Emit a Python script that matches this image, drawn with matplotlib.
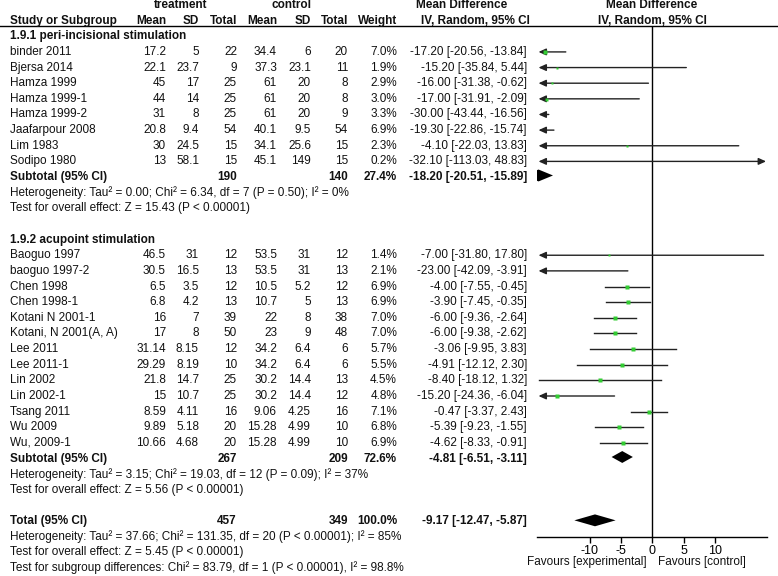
import numpy as np
import matplotlib.pyplot as plt

plt.rcParams['font.family'] = ['Liberation Sans', 'DejaVu Sans']

# ---- DATA ----
studies1 = ['binder 2011', 'Bjersa 2014', 'Hamza 1999', 'Hamza 1999-1', 'Hamza 1999-2',
            'Jaafarpour 2008', 'Lim 1983', 'Sodipo 1980']
t_mean1 = [17.2, 22.1, 45, 44, 31, 20.8, 30, 13]
t_sd1 = [5, 23.7, 17, 14, 8, 9.4, 24.5, 58.1]
t_n1 = [22, 9, 25, 25, 25, 54, 15, 15]
c_mean1 = [34.4, 37.3, 61, 61, 61, 40.1, 34.1, 45.1]
c_sd1 = [6, 23.1, 20, 20, 20, 9.5, 25.6, 149]
c_n1 = [20, 11, 8, 8, 9, 54, 15, 15]
w1 = [7.0, 1.9, 2.9, 3.0, 3.3, 6.9, 2.3, 0.2]
md1 = [-17.20, -15.20, -16.00, -17.00, -30.00, -19.30, -4.10, -32.10]
lo1 = [-20.56, -35.84, -31.38, -31.91, -43.44, -22.86, -22.03, -113.03]
hi1 = [-13.84, 5.44, -0.62, -2.09, -16.56, -15.74, 13.83, 48.83]

studies2 = ['Baoguo 1997', 'baoguo 1997-2', 'Chen 1998', 'Chen 1998-1', 'Kotani N 2001-1',
            'Kotani, N 2001(A, A)', 'Lee 2011', 'Lee 2011-1', 'Lin 2002', 'Lin 2002-1',
            'Tsang 2011', 'Wu 2009', 'Wu, 2009-1']
t_mean2 = [46.5, 30.5, 6.5, 6.8, 16, 17, 31.14, 29.29, 21.8, 15, 8.59, 9.89, 10.66]
t_sd2 = [31, 16.5, 3.5, 4.2, 7, 8, 8.15, 8.19, 14.7, 10.7, 4.11, 5.18, 4.68]
t_n2 = [12, 13, 12, 13, 39, 50, 12, 10, 25, 25, 16, 20, 20]
c_mean2 = [53.5, 53.5, 10.5, 10.7, 22, 23, 34.2, 34.2, 30.2, 30.2, 9.06, 15.28, 15.28]
c_sd2 = [31, 31, 5.2, 5, 8, 9, 6.4, 6.4, 14.4, 14.4, 4.25, 4.99, 4.99]
c_n2 = [12, 13, 12, 13, 38, 48, 6, 6, 13, 12, 16, 10, 10]
w2 = [1.4, 2.1, 6.9, 6.9, 7.0, 7.0, 5.7, 5.5, 4.5, 4.8, 7.1, 6.8, 6.9]
md2 = [-7.00, -23.00, -4.00, -3.90, -6.00, -6.00, -3.06, -4.91, -8.40, -15.20, -0.47, -5.39, -4.62]
lo2 = [-31.80, -42.09, -7.55, -7.45, -9.36, -9.38, -9.95, -12.12, -18.12, -24.36, -3.37, -9.23, -8.33]
hi2 = [17.80, -3.91, -0.45, -0.35, -2.64, -2.62, 3.83, 2.30, 1.32, -6.04, 2.43, -1.55, -0.91]

group_titles = ['1.9.1 peri-incisional stimulation', '1.9.2 acupoint stimulation']
sub_n_t = [190, 267]
sub_n_c = [140, 209]
sub_w = [27.4, 72.6]
sub_md = [-18.20, -4.81]
sub_lo = [-20.51, -6.51]
sub_hi = [-15.89, -3.11]
sub_het = ['Heterogeneity: Tau\u00b2 = 0.00; Chi\u00b2 = 6.34, df = 7 (P = 0.50); I\u00b2 = 0%',
           'Heterogeneity: Tau\u00b2 = 3.15; Chi\u00b2 = 19.03, df = 12 (P = 0.09); I\u00b2 = 37%']
sub_z = ['Test for overall effect: Z = 15.43 (P < 0.00001)',
         'Test for overall effect: Z = 5.56 (P < 0.00001)']

tot_n_t, tot_n_c, tot_w = 457, 349, 100.0
tot_md, tot_lo, tot_hi = -9.17, -12.47, -5.87
tot_notes = ['Heterogeneity: Tau\u00b2 = 37.66; Chi\u00b2 = 131.35, df = 20 (P < 0.00001); I\u00b2 = 85%',
             'Test for overall effect: Z = 5.45 (P < 0.00001)',
             'Test for subgroup differences: Chi\u00b2 = 83.79, df = 1 (P < 0.00001), I\u00b2 = 98.8%']

xticks = [-10, -5, 0, 5, 10]
fav_left, fav_right = 'Favours [experimental]', 'Favours [control]'

# ---- LAYOUT ----
W, H = 778, 576
FS = 8.5
ROW0, STEP = 5, 15.64          # pixel y of row 0, row height


def row_y(px):
    return (px - ROW0) / STEP


fig = plt.figure(figsize=(W / 100, H / 100), dpi=100)
ax = fig.add_axes([0, 0, 1, 1])
ax.set_xlim(0, W)
ax.set_ylim(row_y(H), row_y(0))
ax.axis('off')

XL = (-18.4, 18.4)
ZERO_PX, PPU = 652.3, 6.25
left_px = ZERO_PX + XL[0] * PPU
top_px, bot_px = 26, 537
axf = fig.add_axes([left_px / W, 1 - bot_px / H, (XL[1] - XL[0]) * PPU / W, (bot_px - top_px) / H])
axf.set_xlim(*XL)
axf.set_ylim(row_y(bot_px), row_y(top_px))
axf.patch.set_alpha(0)
for s in ['top', 'left', 'right']:
    axf.spines[s].set_visible(False)
axf.spines['bottom'].set_linewidth(1)
axf.set_yticks([])
axf.set_xticks(xticks)
axf.set_xticklabels([str(t) for t in xticks], fontsize=FS + 0.5)
axf.tick_params(axis='x', length=4, width=1, pad=1.5)
axf.axvline(0, color='black', lw=1)

# column right edges (pixels)
X_NAME, X_TM, X_TSD, X_TN, X_CM, X_CSD, X_CN, X_W, X_CI = 10, 166, 199, 237, 277, 311, 348, 397, 527


def txt(x, y, s, ha='right', bold=False):
    ax.text(x, y, s, ha=ha, va='center', fontsize=FS, color='#111111',
            fontweight='bold' if bold else 'normal')


def ci_str(m, l, h):
    return f'{m:.2f} [{l:.2f}, {h:.2f}]'


# headers
txt(181, 0, 'treatment', ha='center', bold=True)
txt(292, 0, 'control', ha='center', bold=True)
txt(462, 0, 'Mean Difference', ha='center', bold=True)
txt(652, 0, 'Mean Difference', ha='center', bold=True)
txt(X_NAME, 1, 'Study or Subgroup', ha='left', bold=True)
for x, s in zip([X_TM, X_TSD, X_TN, X_CM, X_CSD, X_CN, X_W],
                ['Mean', 'SD', 'Total', 'Mean', 'SD', 'Total', 'Weight']):
    txt(x, 1, s, bold=True)
txt(475, 1, 'IV, Random, 95% CI', ha='center', bold=True)
txt(652, 1, 'IV, Random, 95% CI', ha='center', bold=True)
ax.plot([0, W], [row_y(26), row_y(26)], color='black', lw=1)


def study_row(r, name, tm, tsd, tn, cm, csd, cn, w, m, l, h):
    txt(X_NAME, r, name, ha='left')
    for x, v in zip([X_TM, X_TSD, X_TN, X_CM, X_CSD, X_CN], [tm, tsd, tn, cm, csd, cn]):
        txt(x, r, f'{v:g}')
    txt(X_W, r, f'{w:.1f}%')
    txt(X_CI, r, ci_str(m, l, h))
    # forest marks
    a, b = max(l, XL[0] + 0.2), min(h, XL[1] - 0.2)
    left_out, right_out = l < XL[0], h > XL[1]
    kw = dict(color='#222222', lw=1)
    head = '-|>,head_length=0.55,head_width=0.25'
    if left_out and right_out:
        axf.annotate('', xy=(a, r), xytext=(b, r),
                     arrowprops=dict(arrowstyle='<|-|>,head_length=0.55,head_width=0.25',
                                     mutation_scale=8, shrinkA=0, shrinkB=0, **kw))
    elif left_out:
        axf.annotate('', xy=(a, r), xytext=(b, r),
                     arrowprops=dict(arrowstyle=head, mutation_scale=8, shrinkA=0, shrinkB=0, **kw))
    elif right_out:
        axf.annotate('', xy=(b, r), xytext=(a, r),
                     arrowprops=dict(arrowstyle=head, mutation_scale=8, shrinkA=0, shrinkB=0, **kw))
    else:
        axf.plot([a, b], [r, r], **kw)
    if XL[0] < m < XL[1]:
        axf.plot(m, r, 's', ms=1.5 + 0.22 * w, color='#33cc33', mec='none', zorder=5)


def diamond(r, m, l, h):
    axf.fill([l, m, h, m], [r, r - 0.38, r, r + 0.38], color='black', lw=0, zorder=4)


groups = [
    (studies1, t_mean1, t_sd1, t_n1, c_mean1, c_sd1, c_n1, w1, md1, lo1, hi1),
    (studies2, t_mean2, t_sd2, t_n2, c_mean2, c_sd2, c_n2, w2, md2, lo2, hi2),
]

r = 2
for g, cols in enumerate(groups):
    txt(X_NAME, r, group_titles[g], ha='left', bold=True)
    r += 1
    for vals in zip(*cols):
        study_row(r, *vals)
        r += 1
    txt(X_NAME, r, 'Subtotal (95% CI)', ha='left', bold=True)
    txt(X_TN, r, str(sub_n_t[g]), bold=True)
    txt(X_CN, r, str(sub_n_c[g]), bold=True)
    txt(X_W, r, f'{sub_w[g]:.1f}%', bold=True)
    txt(X_CI, r, ci_str(sub_md[g], sub_lo[g], sub_hi[g]), bold=True)
    diamond(r - 0.1, sub_md[g], sub_lo[g], sub_hi[g])
    r += 1
    txt(X_NAME, r, sub_het[g], ha='left')
    r += 1
    txt(X_NAME, r, sub_z[g], ha='left')
    r += 2

txt(X_NAME, r, 'Total (95% CI)', ha='left', bold=True)
txt(X_TN, r, str(tot_n_t), bold=True)
txt(X_CN, r, str(tot_n_c), bold=True)
txt(X_W, r, f'{tot_w:.1f}%', bold=True)
txt(X_CI, r, ci_str(tot_md, tot_lo, tot_hi), bold=True)
diamond(r - 0.05, tot_md, tot_lo, tot_hi)
for note in tot_notes:
    r += 1
    txt(X_NAME, r, note, ha='left')

txt(647, row_y(562), fav_left, ha='right')
txt(658, row_y(562), fav_right, ha='left')

fig.savefig('out.png', dpi=100)
